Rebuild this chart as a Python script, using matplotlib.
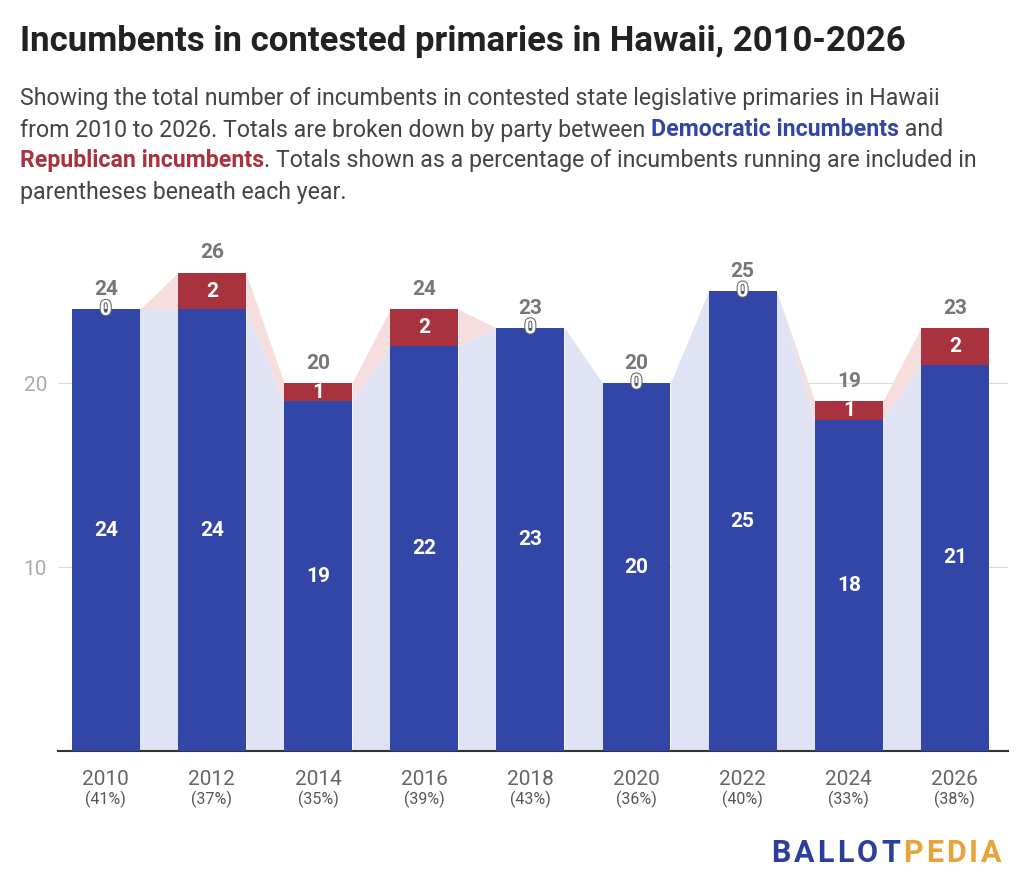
import matplotlib
matplotlib.use("Agg")
import matplotlib.pyplot as plt
import matplotlib.patheffects as pe
import numpy as np

years = ["2010","2012","2014","2016","2018","2020","2022","2024","2026"]
pcts = ["(41%)","(37%)","(35%)","(39%)","(43%)","(36%)","(40%)","(33%)","(38%)"]
dem = [24,24,19,22,23,20,25,18,21]
rep = [0,2,1,2,0,0,0,1,2]

BLUE = "#3246a8"; RED = "#a8323e"
plt.rcParams['font.family'] = ['Roboto', 'DejaVu Sans']
fig = plt.figure(figsize=(10.24, 8.92), dpi=100)
ax = fig.add_axes([58/1024, 1-751/892, 950/1024, 506/892])
x = np.arange(len(years)); w = 0.64
tot = [d+r for d, r in zip(dem, rep)]
for i in range(len(x)-1):
    xs = [x[i]+w/2, x[i+1]-w/2]
    ax.fill_between(xs, [tot[i], tot[i+1]], [dem[i], dem[i+1]], color="#f6dede", lw=0, zorder=1)
    ax.fill_between(xs, [dem[i], dem[i+1]], 0, color="#e0e3f3", lw=0, zorder=1)
ax.bar(x, dem, w, color=BLUE, zorder=3)
ax.bar(x, rep, w, bottom=dem, color=RED, zorder=3)
outline = [pe.withStroke(linewidth=1.5, foreground="#666666")]
for i in x:
    ax.text(i, dem[i]/2, str(dem[i]), ha="center", va="center", color="white", fontsize=15, fontweight="bold", zorder=5)
    if rep[i] > 0:
        ax.text(i, dem[i]+rep[i]/2, str(rep[i]), ha="center", va="center", color="white", fontsize=15, fontweight="bold", zorder=5)
    else:
        ax.text(i, dem[i], "0", ha="center", va="center", color="white", fontsize=15, fontweight="bold", zorder=5, path_effects=outline)
    ax.text(i, tot[i]+0.55, str(tot[i]), ha="center", va="bottom", color="#777777", fontsize=15, fontweight="bold", zorder=5)
ax.set_xlim(-0.45, 8.5); ax.set_ylim(0, 27.5)
ax.set_yticks([10, 20]); ax.set_yticklabels(["10", "20"], fontsize=15, color="#aaaaaa")
ax.yaxis.grid(True, color="#dddddd", zorder=0); ax.set_axisbelow(True)
ax.tick_params(axis="y", length=0, pad=8)
ax.set_xticks(x); ax.set_xticklabels(years, fontsize=15, color="#666666")
ax.tick_params(axis="x", length=0, pad=14)
for i in x:
    ax.text(i, -0.078, pcts[i], transform=ax.get_xaxis_transform(), ha="center", va="top", fontsize=11.5, color="#555555")
for s in ["top", "right", "left"]:
    ax.spines[s].set_visible(False)
ax.spines["bottom"].set_color("#333333"); ax.spines["bottom"].set_linewidth(1.5)

fig.text(20/1024, 1-42/892, "Incumbents in contested primaries in Hawaii, 2010-2026", fontsize=25, fontweight="bold", color="#222222", va="center")
lines = [
    [("Showing the total number of incumbents in contested state legislative primaries in Hawaii", "#444444", "normal")],
    [("from 2010 to 2026. Totals are broken down by party between ", "#444444", "normal"), ("Democratic incumbents", BLUE, "bold"), (" and", "#444444", "normal")],
    [("Republican incumbents", RED, "bold"), (". Totals shown as a percentage of incumbents running are included in", "#444444", "normal")],
    [("parentheses beneath each year.", "#444444", "normal")],
]
fig.canvas.draw()
r = fig.canvas.get_renderer()
for k, ln in enumerate(lines):
    xp = 20/1024
    for txt, c, wgt in ln:
        t = fig.text(xp, 1-(99+k*31)/892, txt, fontsize=16.7, color=c, fontweight=wgt, va="center")
        bb = t.get_window_extent(r)
        xp += bb.width/1024
# logo letters spaced out
logo = [(ch, "#2c3e9e") for ch in "BALLOT"] + [(ch, "#e8a33a") for ch in "PEDIA"]
xp = 771/1024
for ch, c in logo:
    t = fig.text(xp, 1-853/892, ch, fontsize=22, fontweight="bold", color=c, va="center")
    xp += (t.get_window_extent(r).width + 3.2)/1024
fig.savefig("out.png", dpi=100, facecolor="white")
